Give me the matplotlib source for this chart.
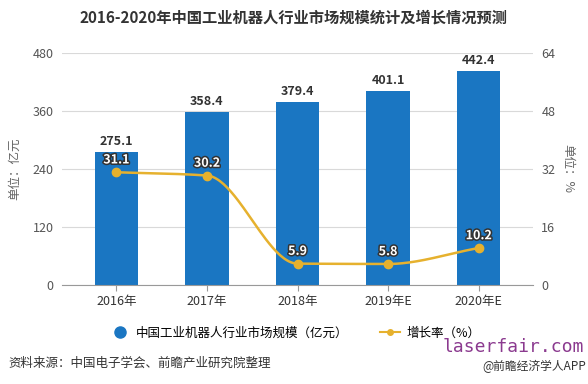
import numpy as np
import matplotlib.pyplot as plt
import matplotlib.patheffects as pe
from matplotlib.lines import Line2D

plt.rcParams['font.family'] = ['Noto Sans CJK SC', 'DejaVu Sans']

years = ["2016年", "2017年", "2018年", "2019年E", "2020年E"]
scale = [275.1, 358.4, 379.4, 401.1, 442.4]
growth = [31.1, 30.2, 5.9, 5.8, 10.2]

bar_color = "#1a76c2"
line_color = "#e6b12e"


def pchip(x, y, xs):
    # monotone cubic for the smooth line
    x = np.asarray(x, float)
    y = np.asarray(y, float)
    h = np.diff(x)
    d = np.diff(y) / h
    m = np.zeros_like(y)
    for k in range(1, len(y) - 1):
        if d[k - 1] * d[k] > 0:
            w1 = 2 * h[k] + h[k - 1]
            w2 = h[k] + 2 * h[k - 1]
            m[k] = (w1 + w2) / (w1 / d[k - 1] + w2 / d[k])
    m[0] = d[0]
    m[-1] = d[-1]
    out = np.empty_like(xs)
    for i, v in enumerate(xs):
        k = min(np.searchsorted(x, v, side="right") - 1, len(x) - 2)
        t = (v - x[k]) / h[k]
        h00 = 2 * t**3 - 3 * t**2 + 1
        h10 = t**3 - 2 * t**2 + t
        h01 = -2 * t**3 + 3 * t**2
        h11 = t**3 - t**2
        out[i] = h00 * y[k] + h10 * h[k] * m[k] + h01 * y[k + 1] + h11 * h[k] * m[k + 1]
    return out


fig = plt.figure(figsize=(5.88, 3.84), dpi=100)
ax = fig.add_axes([62 / 588, 1 - 285 / 384, (533 - 62) / 588, (285 - 53) / 384])
x = np.arange(len(years))

ax.bar(x, scale, width=0.48, color=bar_color, zorder=2)
ax.set_xlim(-0.6, 4.6)
ax.set_ylim(0, 480)
ax.set_yticks([0, 120, 240, 360, 480])
ax.grid(axis="y", color="#d9d9d9", linewidth=0.8, zorder=0)
for s in ["top", "right", "left"]:
    ax.spines[s].set_visible(False)
ax.spines["bottom"].set_color("#999999")
ax.tick_params(axis="y", length=0, labelsize=9, labelcolor="#555555", pad=6)
ax.tick_params(axis="x", length=4, color="#999999", labelsize=9, labelcolor="#333333")
ax.set_xticks(x)
ax.set_xticklabels(years)
ax.set_ylabel("单位：亿元", fontsize=9, color="#666666", labelpad=8)

for xi, v in zip(x, scale):
    ax.text(xi, v + 8, f"{v}", ha="center", va="bottom", fontsize=9,
            fontweight="bold", color="#333333", zorder=5)

ax2 = ax.twinx()
ax2.set_ylim(0, 64)
ax2.set_yticks([0, 16, 32, 48, 64])
for s in ax2.spines.values():
    s.set_visible(False)
ax2.tick_params(axis="y", length=0, labelsize=9, labelcolor="#555555", pad=6)
ax2.set_ylabel("单位：%", fontsize=9, color="#666666", rotation=-90, labelpad=14)

xs = np.linspace(0, 4, 200)
ax2.plot(xs, pchip(x, growth, xs), color=line_color, linewidth=1.8, zorder=3)
ax2.plot(x, growth, "o", color=line_color, markersize=6, zorder=4)
for xi, v in zip(x, growth):
    ax2.text(xi, v + 1.6, f"{v}", ha="center", va="bottom", fontsize=9,
             fontweight="bold", color="white", zorder=6,
             path_effects=[pe.withStroke(linewidth=2.2, foreground="#333333")])

handles = [
    Line2D([], [], marker="o", linestyle="none", color=bar_color, markersize=8),
    Line2D([], [], marker="o", color=line_color, markersize=4, linewidth=1.5),
]
fig.legend(handles, ["中国工业机器人行业市场规模（亿元）", "增长率（%）"],
           loc="center", bbox_to_anchor=(295 / 588, 1 - 333 / 384), ncol=2,
           frameon=False, fontsize=9, handlelength=1.6, columnspacing=2.5,
           handletextpad=0.5)

fig.text(0.5, 1 - 18 / 384, "2016-2020年中国工业机器人行业市场规模统计及增长情况预测",
         ha="center", va="center", fontsize=11, fontweight="bold", color="#333333")
fig.text(8 / 588, 1 - 363 / 384, "资料来源：中国电子学会、前瞻产业研究院整理",
         ha="left", va="center", fontsize=9, color="#333333")
fig.text(586 / 588, 1 - 366 / 384, "@前瞻经济学人APP",
         ha="right", va="center", fontsize=8.5, color="#333333")
fig.text(584 / 588, 1 - 347 / 384, "laserfair.com",
         ha="right", va="center", fontsize=13, color="#8b3a8f",
         family="DejaVu Sans Mono")

fig.savefig("out.png", dpi=100)
